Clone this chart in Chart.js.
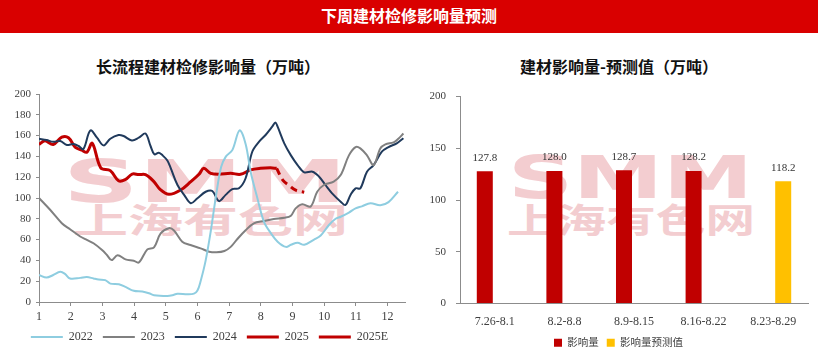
<!DOCTYPE html>
<html>
<head>
<meta charset="utf-8">
<script src="https://cdn.jsdelivr.net/npm/chart.js@4.4.0/dist/chart.umd.min.js"></script>
<style>
  body { margin: 0; width: 818px; height: 361px; background: #fff; position: relative; overflow: hidden; font-family: 'Noto Sans CJK SC', sans-serif; }
  .hdr { position: absolute; left: 0; top: 0; width: 818px; height: 33px; background: #d90000; color: #fff; font-weight: bold; font-size: 16px; line-height: 30px; text-align: center; }
  .sub { position: absolute; top: 56px; font-weight: bold; font-size: 16px; line-height: 20px; text-align: center; color: #111; }
  .box { position: absolute; top: 80px; height: 281px; z-index: 1; }
  svg.wm { position: absolute; left: 0; top: 0; z-index: 0; }
</style>
</head>
<body>
<div class="hdr">下周建材检修影响量预测</div>
<div class="sub" style="left:0;width:416px">长流程建材检修影响量（万吨）</div>
<div class="sub" style="left:417px;width:404px">建材影响量-预测值（万吨）</div>

<svg class="wm" width="818" height="361">
  <g fill="#f3cdd0" font-weight="bold">
    <text x="63" y="202" font-family="DejaVu Sans" font-size="58" textLength="284" lengthAdjust="spacingAndGlyphs">SMM</text>
    <text x="73" y="233" font-family="Noto Sans CJK SC" font-size="34" textLength="275" lengthAdjust="spacingAndGlyphs">上海有色网</text>
    <text x="508" y="198" font-family="DejaVu Sans" font-size="58" textLength="245" lengthAdjust="spacingAndGlyphs">SMM</text>
    <text x="507" y="233" font-family="Noto Sans CJK SC" font-size="34" textLength="248" lengthAdjust="spacingAndGlyphs">上海有色网</text>
  </g>
</svg>

<div class="box" style="left:0;width:410px"><canvas id="lineChart"></canvas></div>
<div class="box" style="left:410px;width:408px"><canvas id="barChart"></canvas></div>

<script>
// left chart: weekly values, x in months
const x2022 = [1.0,1.24,1.45,1.67,1.82,1.98,2.3,2.51,2.72,2.88,3.09,3.25,3.52,3.73,3.99,4.26,4.47,4.63,5.05,5.21,5.37,5.68,5.89,6.0,6.1,6.26,6.42,6.6,6.75,6.9,7.1,7.33,7.52,7.68,7.89,8.1,8.32,8.53,8.79,8.95,9.16,9.37,9.68,9.89,10.15,10.36,10.52,10.78,10.99,11.19,11.46,11.77,12.03,12.33];
const y2022 = [26,23.5,26,29,27,22.6,23.2,24,22.6,21.6,21,17.7,17,14.5,10.8,10,8.4,6.5,5.8,6.5,8,7.4,8,11,20,40,68,105,130,140,146,165,152,125,100,77,66,58,53,55,57,55,60,64,74,80,82,86,90,92,95,93,96,106];

const x2023 = [1.0,1.35,1.72,1.98,2.3,2.51,2.72,2.99,3.15,3.29,3.48,3.73,3.99,4.15,4.42,4.63,4.84,5.1,5.26,5.52,5.78,6.1,6.37,6.6,6.85,7.05,7.26,7.52,7.78,8.1,8.41,8.74,8.95,9.1,9.31,9.57,9.78,9.99,10.3,10.52,10.78,10.99,11.14,11.35,11.56,11.77,11.93,12.19,12.34,12.5];
const y2023 = [100,88.7,75.8,70,63,59.7,56.5,50,45,40.3,45,41,39.7,38,50.6,52.6,66,71,68.7,58,54.8,51.6,48.4,47.8,49,53,60.6,69,75.6,77.9,79.8,81,83,90,94,91.7,106,112.5,115.7,122,141,149,147.7,141,131.7,147.7,151.6,153.5,157,162];

const x2024 = [1.0,1.24,1.45,1.67,1.88,2.09,2.25,2.4,2.62,2.83,3.04,3.25,3.51,3.67,3.93,4.15,4.36,4.52,4.64,4.78,4.9,5.05,5.16,5.37,5.58,5.79,6.0,6.26,6.47,6.68,6.89,7.1,7.31,7.52,7.73,7.94,8.15,8.36,8.46,8.53,8.74,8.95,9.16,9.37,9.63,9.84,10.04,10.25,10.52,10.67,10.83,10.99,11.14,11.35,11.56,11.82,12.03,12.29,12.5];
const y2024 = [157,155.7,154,154.8,151,152,150,147,165,158,150.6,157,160.6,159.6,155.4,158,162,150,142,143.5,141,136,128.5,112.5,103,95,99.7,106,106.7,97,103,108.6,109.3,119,144.5,154,160.6,168.6,172.7,168.6,152.6,141,131.7,124.7,125.3,120.5,112.5,104.5,96.5,93.3,102.9,109.3,109.3,125.3,131.7,144.5,149,152.6,157.4];

const x2025 = [1.0,1.19,1.45,1.72,1.93,2.14,2.35,2.51,2.68,2.95,3.25,3.51,3.72,3.94,4.15,4.36,4.62,4.83,5.1,5.47,5.79,6.05,6.2,6.42,6.68,7.05,7.36,7.68,7.99,8.3,8.5];
const y2025 = [151.5,155,151.5,158.5,158,149,146,144,152.6,129,126.3,116.6,117.6,123,122.5,122.5,116,108,103.5,107.7,115.7,122.8,128.5,123.7,122.8,123.7,122.8,127,128.5,129,128.5];

const x2025E = [8.5,8.7,8.9,9.1,9.37];
const y2025E = [128.5,117,112,107.5,105.5];

// right chart
const weeks = ['7.26-8.1', '8.2-8.8', '8.9-8.15', '8.16-8.22', '8.23-8.29'];
const impact = [127.8, 128.0, 128.7, 128.2, null];
const impactForecast = [null, null, null, null, 118.2];

const numFont = "'Liberation Serif', 'Noto Sans CJK SC', serif";
const tickColor = '#404040';
const axisColor = '#8c8c8c';

function pts(xs, ys) {
    return xs.map((x, i) => ({ x: x, y: ys[i] }));
}

function lineSet(label, xs, ys, color, width, dash) {
    return {
        label: label,
        data: pts(xs, ys),
        borderColor: color,
        backgroundColor: color,
        borderWidth: width,
        borderDash: dash || [],
        pointRadius: 0,
        tension: 0.35,
        fill: false
    };
}

new Chart(document.getElementById('lineChart'), {
    type: 'line',
    data: {
        datasets: [
            lineSet('2022', x2022, y2022, '#8ecde0', 2),
            lineSet('2023', x2023, y2023, '#808080', 2),
            lineSet('2024', x2024, y2024, '#203a5c', 2),
            lineSet('2025', x2025, y2025, '#c00000', 3),
            lineSet('2025E', x2025E, y2025E, '#c00000', 3, [7, 5])
        ]
    },
    options: {
        responsive: true,
        maintainAspectRatio: false,
        animation: false,
        layout: { padding: { top: 14, right: 5, left: 14, bottom: 8 } },
        plugins: {
            tooltip: { enabled: false },
            legend: {
                position: 'bottom',
                labels: {
                    usePointStyle: true,
                    pointStyle: 'line',
                    pointStyleWidth: 32,
                    padding: 10,
                    color: tickColor,
                    font: { family: numFont, size: 12 }
                }
            }
        },
        scales: {
            x: {
                type: 'linear',
                min: 1,
                max: 12.55,
                afterFit(scale) { scale.height = 19; },
                ticks: { stepSize: 1, includeBounds: false, color: tickColor, padding: 4, maxRotation: 0, font: { family: numFont, size: 12 } },
                grid: { drawOnChartArea: false, drawTicks: true, tickLength: 4, color: axisColor },
                border: { color: axisColor }
            },
            y: {
                min: 0,
                max: 200,
                afterFit(scale) { scale.width = 25; },
                ticks: { stepSize: 20, color: tickColor, padding: 5, font: { family: numFont, size: 11 } },
                grid: { drawOnChartArea: false, drawTicks: true, tickLength: 3, color: axisColor },
                border: { color: axisColor }
            }
        }
    }
});

const barLabels = {
    id: 'barLabels',
    afterDatasetsDraw(chart) {
        const ctx = chart.ctx;
        ctx.save();
        ctx.font = '11px ' + numFont;
        ctx.fillStyle = '#333';
        ctx.textAlign = 'center';
        ctx.textBaseline = 'bottom';
        chart.data.datasets.forEach((ds, i) => {
            chart.getDatasetMeta(i).data.forEach((bar, j) => {
                const v = ds.data[j];
                if (v == null) return;
                ctx.fillText(v.toFixed(1), bar.x, bar.y - 8);
            });
        });
        ctx.restore();
    }
};

new Chart(document.getElementById('barChart'), {
    type: 'bar',
    data: {
        labels: weeks,
        datasets: [
            { label: '影响量', data: impact, backgroundColor: '#c00000', barPercentage: 0.8, categoryPercentage: 0.575 },
            { label: '影响量预测值', data: impactForecast, backgroundColor: '#ffc000', barPercentage: 0.8, categoryPercentage: 0.575 }
        ]
    },
    options: {
        responsive: true,
        maintainAspectRatio: false,
        animation: false,
        layout: { padding: { top: 12, right: 10, left: 19, bottom: 3 } },
        plugins: {
            tooltip: { enabled: false },
            legend: {
                position: 'bottom',
                labels: {
                    boxWidth: 8,
                    boxHeight: 8,
                    padding: 8,
                    color: tickColor,
                    font: { family: numFont, size: 10.5 }
                }
            }
        },
        scales: {
            x: {
                afterFit(scale) { scale.height = 26; },
                ticks: { color: tickColor, padding: 3, maxRotation: 0, font: { family: numFont, size: 12 } },
                grid: { display: false },
                border: { color: axisColor }
            },
            y: {
                min: 0,
                max: 200,
                afterFit(scale) { scale.width = 31; },
                ticks: { stepSize: 50, color: tickColor, padding: 10, font: { family: numFont, size: 11 } },
                grid: { drawOnChartArea: false, drawTicks: true, tickLength: 4, color: axisColor },
                border: { color: axisColor }
            }
        }
    },
    plugins: [barLabels]
});
</script>
</body>
</html>
